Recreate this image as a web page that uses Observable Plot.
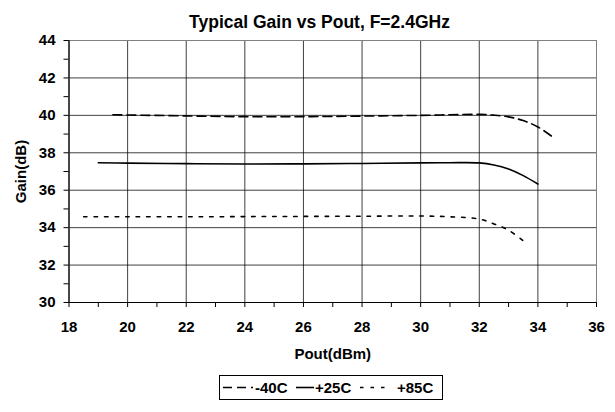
<!DOCTYPE html>
<html>
<head>
<meta charset="utf-8">
<script src="https://cdn.jsdelivr.net/npm/d3@7"></script>
<script src="https://cdn.jsdelivr.net/npm/@observablehq/plot@0.6"></script>
<style>
  html, body { margin: 0; padding: 0; background: #fff; }
  body { width: 615px; height: 412px; overflow: hidden; font-family: "Liberation Sans", Arial, sans-serif; }
  #title { box-sizing: border-box; height: 32px; padding-top: 13.5px; padding-left: 24px; line-height: 17.5px; font-size: 17.5px; font-weight: bold; text-align: center; color: #000; }
  #chart svg { display: block; }
  #legend { display: block; margin-top: 7px; margin-left: 219px; }
</style>
</head>
<body>
<div id="title">Typical Gain vs Pout, F=2.4GHz</div>
<div id="chart"></div>
<svg id="legend" width="224" height="25"></svg>
<script>
// ---- data ----
const seriesNames = ["-40C", "+25C", "+85C"];
const poutM40 = [19.5, 20, 22, 24, 26, 28, 30, 31, 32, 32.5, 33, 33.5, 34, 34.5];
const gainM40 = [40.03, 40.02, 39.97, 39.93, 39.93, 39.96, 40.0, 40.03, 40.05, 40.01, 39.92, 39.72, 39.38, 38.85];
const poutP25 = [19, 20, 22, 24, 26, 28, 30, 31, 32, 32.5, 33, 33.5, 34];
const gainP25 = [37.47, 37.45, 37.42, 37.40, 37.41, 37.43, 37.46, 37.47, 37.46, 37.35, 37.13, 36.78, 36.33];
const poutP85 = [18.5, 20, 22, 24, 26, 28, 30, 31, 32, 32.5, 33, 33.5];
const gainP85 = [34.58, 34.58, 34.58, 34.59, 34.60, 34.61, 34.62, 34.58, 34.46, 34.20, 33.86, 33.30];
const xTicks = [18, 20, 22, 24, 26, 28, 30, 32, 34, 36];
const xMinor = [19, 21, 23, 25, 27, 29, 31, 33, 35];
const yTicks = [30, 32, 34, 36, 38, 40, 42, 44];
const yMinor = [31, 33, 35, 37, 39, 41, 43];

const dashes = {"-40C": "9,5", "+25C": null, "+85C": "3.5,7"};
const toRows = (name, xs, ys) => xs.map((x, i) => ({series: name, pout: x, gain: ys[i]}));
const rows = [
  ...toRows(seriesNames[0], poutM40, gainM40),
  ...toRows(seriesNames[1], poutP25, gainP25),
  ...toRows(seriesNames[2], poutP85, gainP85)
];

const lineMarks = seriesNames.map(name => Plot.line(rows.filter(d => d.series === name), {
  x: "pout", y: "gain", stroke: "#000", strokeWidth: 1.6,
  strokeDasharray: dashes[name] || undefined, curve: "catmull-rom"
}));

const chart = Plot.plot({
  width: 615, height: 336,
  marginTop: 8, marginBottom: 66, marginLeft: 68.5, marginRight: 19,
  x: {domain: [18, 36]},
  y: {domain: [30, 44]},
  style: {fontFamily: '"Liberation Sans", Arial, sans-serif', fontWeight: "bold", fontSize: "15px", color: "#000", background: "#fff"},
  marks: [
    Plot.gridX(xTicks, {stroke: "#000", strokeOpacity: 0.75, strokeWidth: 1}),
    Plot.gridY(yTicks, {stroke: "#000", strokeOpacity: 0.75, strokeWidth: 1}),
    Plot.frame({stroke: "#808080", strokeWidth: 1}),
    Plot.axisX(xTicks, {tickSize: 5, tickPadding: 14, label: "Pout(dBm)", labelAnchor: "center", labelArrow: "none", labelOffset: 56, fontSize: 15}),
    Plot.axisX(xMinor, {tickSize: 5, text: null, label: null}),
    Plot.axisY(yTicks, {tickSize: 5, tickPadding: 8.5, label: "Gain(dB)", labelAnchor: "center", labelArrow: "none", labelOffset: 54, fontSize: 15}),
    Plot.axisY(yMinor, {tickSize: 5, text: null, label: null}),
    Plot.ruleX([18], {stroke: "#000"}),
    Plot.ruleY([30], {stroke: "#000"}),
    ...lineMarks
  ]
});
document.getElementById("chart").appendChild(chart);

// ---- legend ----
const lg = d3.select("#legend");
lg.append("rect").attr("x", 0.5).attr("y", 0.5).attr("width", 223).attr("height", 24)
  .attr("fill", "#fff").attr("stroke", "#000").attr("stroke-width", 1);
const legendItems = [
  {name: seriesNames[0], x0: 4, x1: 34, tx: 36, dash: "9,5"},
  {name: seriesNames[1], x0: 77, x1: 95, tx: 96, dash: null},
  {name: seriesNames[2], x0: 141, x1: 172, tx: 178, dash: "3.5,7"}
];
for (const it of legendItems) {
  const ln = lg.append("line").attr("x1", it.x0).attr("x2", it.x1).attr("y1", 12.5).attr("y2", 12.5)
    .attr("stroke", "#000").attr("stroke-width", 1.6);
  if (it.dash) ln.attr("stroke-dasharray", it.dash);
  lg.append("text").attr("x", it.tx).attr("y", 18)
    .attr("font-family", '"Liberation Sans", Arial, sans-serif').attr("font-weight", "bold")
    .attr("font-size", 15).attr("fill", "#000").text(it.name);
}
</script>
</body>
</html>
